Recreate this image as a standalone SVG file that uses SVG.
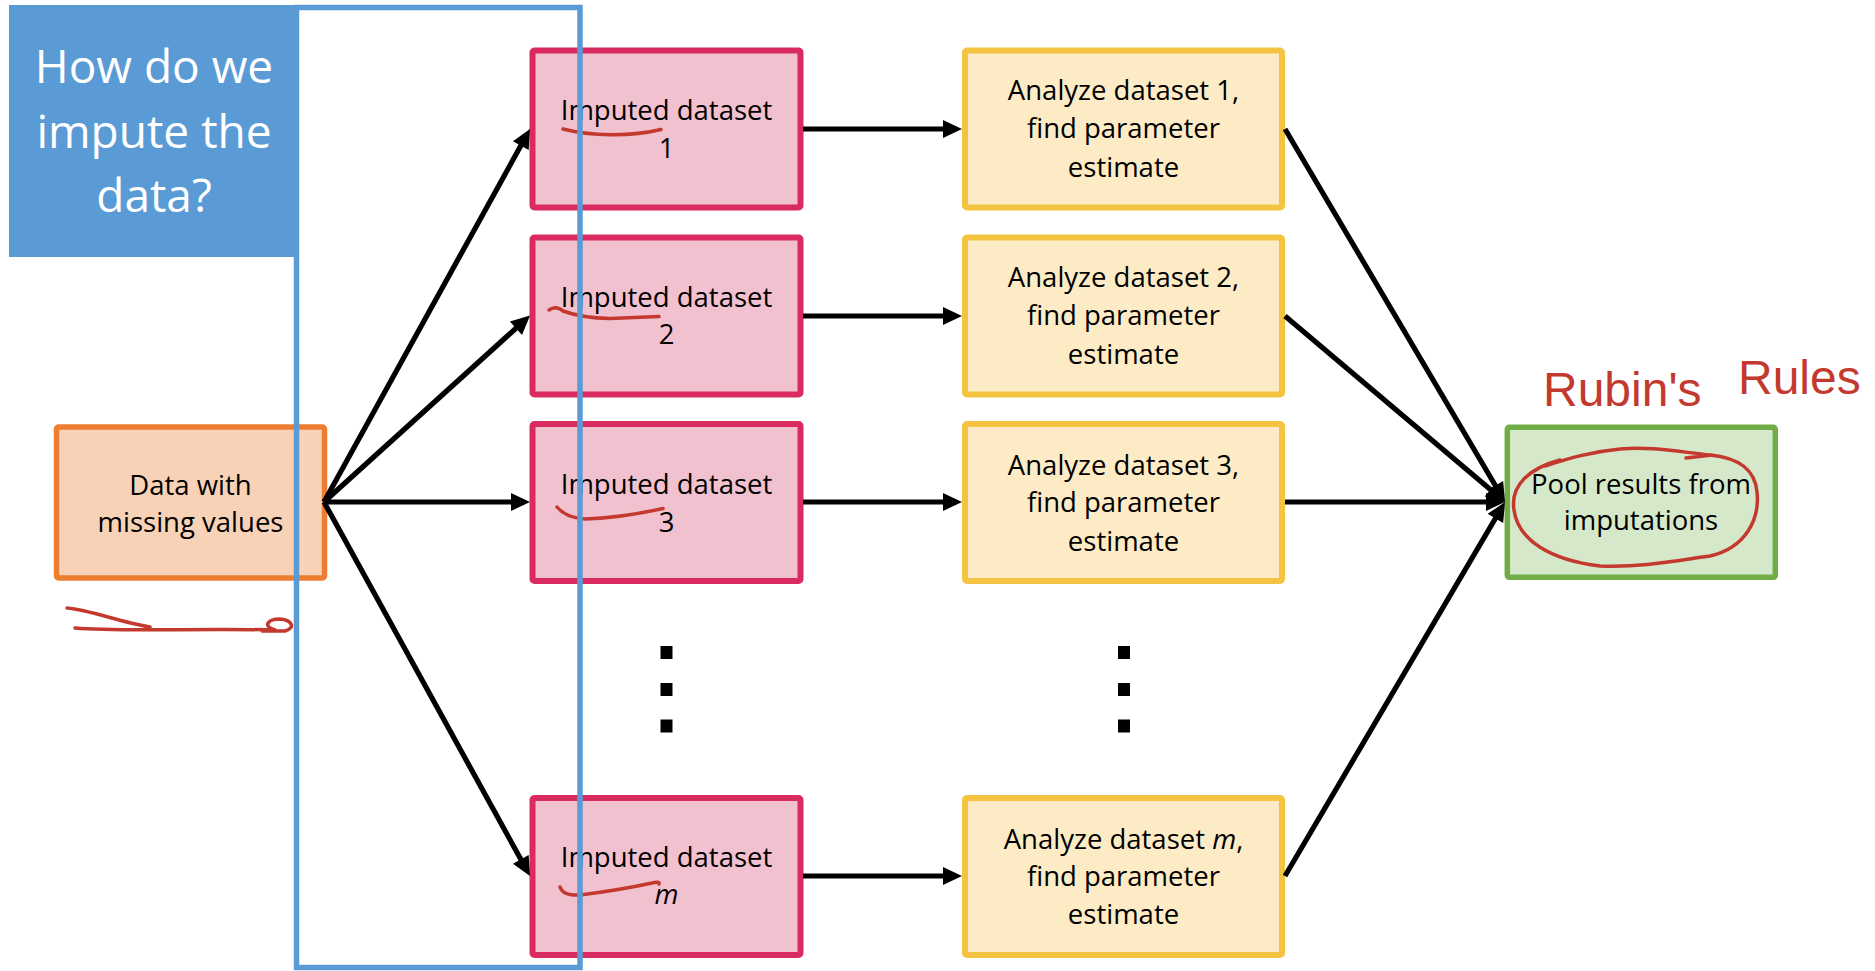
<svg xmlns="http://www.w3.org/2000/svg" width="1875" height="971" viewBox="0 0 1875 971">
<defs>
<marker id="ah" markerUnits="userSpaceOnUse" markerWidth="20" markerHeight="18" refX="13" refY="9" orient="auto" overflow="visible"><path d="M0,0 L19,9 L0,18 z" fill="#000"/></marker>
</defs>
<style>
.t{font-family:"Open Sans","Liberation Sans",sans-serif;font-size:27.5px;fill:#000;text-anchor:middle}
.title{font-family:"Open Sans","Liberation Sans",sans-serif;font-size:46px;font-weight:400;fill:#fff;text-anchor:middle}
.pink rect{fill:#F2C1CF;stroke:#D92B5F;stroke-width:6}
.yel rect{fill:#FDEBC6;stroke:#F5C342;stroke-width:6}
.org rect{fill:#F8D2B7;stroke:#ED7D31;stroke-width:5.5}
.grn rect{fill:#D5E8CA;stroke:#70AD47;stroke-width:5.5}
#connectors line{stroke:#000;stroke-width:5.2;marker-end:url(#ah)}
.red{fill:none;stroke:#C4392E;stroke-width:3.5;stroke-linecap:round;stroke-linejoin:round}
.dot{fill:#000}
</style>
<rect x="0" y="0" width="1875" height="971" fill="#fff"/>

<g id="title">
<rect x="9" y="5" width="286" height="252" fill="#5B9BD5"/>
<text class="title" x="154" y="83">How do we</text>
<text class="title" x="154" y="148">impute the</text>
<text class="title" x="154" y="212">data?</text>
</g>

<g id="data" class="org">
<rect x="56.5" y="427" width="268" height="151" rx="2"/>
<text class="t" x="190.5" y="495">Data with</text>
<text class="t" x="190.5" y="531.5">missing values</text>
</g>

<g id="imp1" class="pink">
<rect x="532.5" y="50.5" width="268" height="157" rx="2"/>
<text class="t" x="666.5" y="120">Imputed dataset</text>
<text class="t" x="666.5" y="158">1</text>
</g>
<g id="imp2" class="pink">
<rect x="532.5" y="237.5" width="268" height="157" rx="2"/>
<text class="t" x="666.5" y="306.5">Imputed dataset</text>
<text class="t" x="666.5" y="343.5">2</text>
</g>
<g id="imp3" class="pink">
<rect x="532.5" y="424" width="268" height="157" rx="2"/>
<text class="t" x="666.5" y="494">Imputed dataset</text>
<text class="t" x="666.5" y="531.5">3</text>
</g>
<g id="impm" class="pink">
<rect x="532.5" y="798" width="268" height="157" rx="2"/>
<text class="t" x="666.5" y="867">Imputed dataset</text>
<text class="t" x="666.5" y="904" font-style="italic">m</text>
</g>

<g id="ana1" class="yel">
<rect x="965" y="50.5" width="317" height="157" rx="2"/>
<text class="t" x="1123.5" y="100">Analyze dataset 1,</text>
<text class="t" x="1123.5" y="138">find parameter</text>
<text class="t" x="1123.5" y="177">estimate</text>
</g>
<g id="ana2" class="yel">
<rect x="965" y="237.5" width="317" height="157" rx="2"/>
<text class="t" x="1123.5" y="287">Analyze dataset 2,</text>
<text class="t" x="1123.5" y="324.5">find parameter</text>
<text class="t" x="1123.5" y="363.5">estimate</text>
</g>
<g id="ana3" class="yel">
<rect x="965" y="424" width="317" height="157" rx="2"/>
<text class="t" x="1123.5" y="475">Analyze dataset 3,</text>
<text class="t" x="1123.5" y="512">find parameter</text>
<text class="t" x="1123.5" y="550.5">estimate</text>
</g>
<g id="anam" class="yel">
<rect x="965" y="798" width="317" height="157" rx="2"/>
<text class="t" x="1123.5" y="848.5">Analyze dataset <tspan font-style="italic">m</tspan>,</text>
<text class="t" x="1123.5" y="885.5">find parameter</text>
<text class="t" x="1123.5" y="924">estimate</text>
</g>

<g id="pool" class="grn">
<rect x="1507.3" y="427.3" width="268" height="150" rx="2"/>
<text class="t" x="1641" y="493.5">Pool results from</text>
<text class="t" x="1641" y="530">imputations</text>
</g>

<g id="dots">
<rect class="dot" x="660.5" y="646" width="12" height="13"/>
<rect class="dot" x="660.5" y="683" width="12" height="13"/>
<rect class="dot" x="660.5" y="719.5" width="12" height="13"/>
<rect class="dot" x="1118" y="646" width="12" height="13"/>
<rect class="dot" x="1118" y="683" width="12" height="13"/>
<rect class="dot" x="1118" y="719.5" width="12" height="13"/>
</g>

<g id="connectors">
<line x1="324" y1="502" x2="527.1" y2="134.3"/>
<line x1="324" y1="502" x2="525.6" y2="319.5"/>
<line x1="324" y1="502" x2="524" y2="502"/>
<line x1="324" y1="502" x2="527.1" y2="870.7"/>
<line x1="803" y1="129" x2="956" y2="129"/>
<line x1="803" y1="316" x2="956" y2="316"/>
<line x1="803" y1="502" x2="956" y2="502"/>
<line x1="803" y1="876" x2="956" y2="876"/>
<line x1="1285" y1="129" x2="1502" y2="496.8"/>
<line x1="1285" y1="316" x2="1500.4" y2="498.1"/>
<line x1="1285" y1="502" x2="1499" y2="502"/>
<line x1="1285" y1="876" x2="1502" y2="507.2"/>
</g>

<g id="annotations">
<path class="red" d="M563,129 C590,136 630,137 661,129.5"/>
<path class="red" d="M549,310 Q556,305 563,311 Q582,318 610,318.5 L659,316.5"/>
<path class="red" d="M557,507 Q566,518 585,519 Q620,518 663,508.5"/>
<path class="red" d="M560,887 Q563,896 580,895 Q620,890 652,883 Q660,881 659,884"/>
<path class="red" d="M67,608 C90,610 120,622 150,627 M75,628 C120,632 200,628 275,630 C262,626 268,619 280,619 C292,620 296,628 285,631 L262,631"/>
<path class="red" d="M1560,460 C1530,468 1510,485 1514,510 C1518,540 1550,560 1600,566 C1640,568 1680,560 1710,556 C1745,548 1760,520 1757,492 C1755,470 1740,458 1710,455 C1680,452 1650,446 1620,449 C1590,452 1570,458 1545,466 M1686,458 L1712,455"/>
<text font-family="'Liberation Sans',sans-serif" font-size="48" fill="#C4392E"><tspan x="1543" y="406">Rubin's</tspan><tspan x="1738" y="394">Rules</tspan></text>
</g>

<rect id="frame" x="296.5" y="7.5" width="283.5" height="960" fill="none" stroke="#5B9BD5" stroke-width="5.5"/>
</svg>
